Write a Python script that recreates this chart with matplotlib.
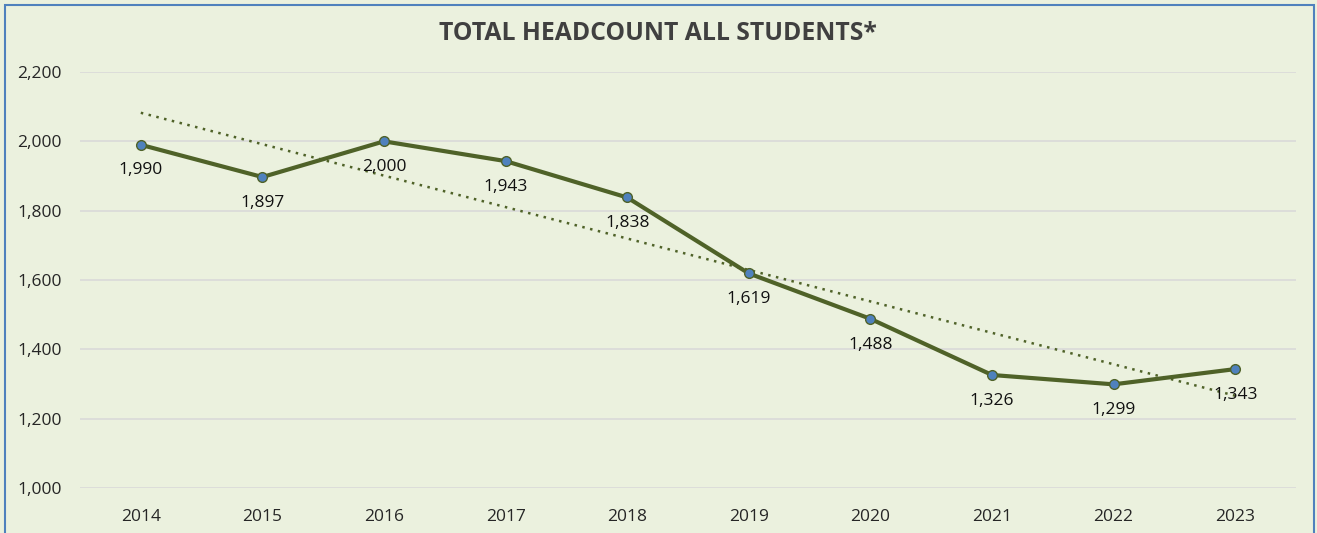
import matplotlib
matplotlib.use("Agg")
import matplotlib.pyplot as plt
from matplotlib.patches import Rectangle
import numpy as np

years = ["2014", "2015", "2016", "2017", "2018", "2019", "2020", "2021", "2022", "2023"]
headcount = [1990, 1897, 2000, 1943, 1838, 1619, 1488, 1326, 1299, 1343]
yticks = [1000, 1200, 1400, 1600, 1800, 2000, 2200]
title = "TOTAL HEADCOUNT ALL STUDENTS*"

plt.rcParams['font.family'] = ['Open Sans', 'DejaVu Sans']
bg = "#EBF1DE"
line_c = "#4F6228"

fig = plt.figure(figsize=(13.17, 5.33), dpi=100, facecolor=bg)
ax = fig.add_axes([80/1317, 1-488/533, (1296-80)/1317, (488-72)/533])
ax.set_facecolor(bg)

x = np.arange(len(years))
ax.plot(x, headcount, color=line_c, lw=3, marker='o', ms=7,
        mfc="#4F81BD", mec=line_c, mew=1, zorder=3)

coef = np.polyfit(x, headcount, 1)
ax.plot(x, np.polyval(coef, x), color=line_c, lw=1.8, ls=(0, (1, 2.2)), zorder=2)

for xi, v in zip(x, headcount):
    ax.annotate(f"{v:,}", (xi, v), xytext=(0, -18.5), textcoords='offset points',
                ha='center', va='center', fontsize=12.5, color='#111111', zorder=4)

ax.set_xlim(-0.5, len(years) - 0.5)
ax.set_ylim(1000, 2200)
ax.set_yticks(yticks)
ax.set_yticklabels([f"{t:,}" for t in yticks])
ax.set_xticks(x)
ax.set_xticklabels(years)
ax.grid(axis='y', color='#D9D9D9', lw=1.2)
ax.set_axisbelow(True)
for s in ax.spines.values():
    s.set_visible(False)
ax.tick_params(length=0, labelsize=12.5, colors='#262626')
ax.tick_params(axis='y', pad=13)
ax.tick_params(axis='x', pad=15)

fig.text(658/1317, 1-33/533, title, ha='center', va='center', fontsize=17.8,
         fontweight='bold', color='#404040')

fig.patches.append(Rectangle((5/1317, -0.05), (1314-5)/1317, 1-5/533+0.05,
                             transform=fig.transFigure, fill=False,
                             edgecolor='#4F81BD', lw=1.5))

fig.savefig("out.png", dpi=100, facecolor=bg)
